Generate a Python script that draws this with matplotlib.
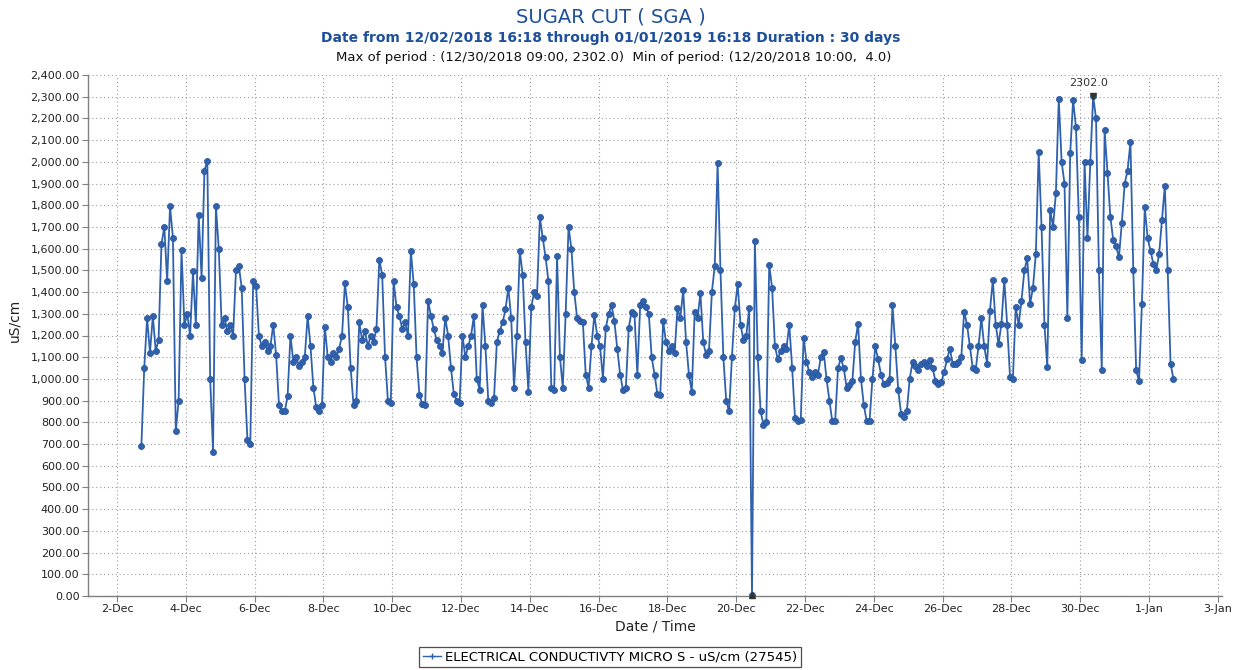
import matplotlib
matplotlib.use("Agg")
import matplotlib.pyplot as plt
import matplotlib.ticker as mticker
import numpy as np
import pandas as pd
from matplotlib.lines import Line2D

# ---------------- text ----------------
title = "SUGAR CUT ( SGA )"
subtitle = "Date from 12/02/2018 16:18 through 01/01/2019 16:18 Duration : 30 days"
stats_line = "Max of period : (12/30/2018 09:00, 2302.0)  Min of period: (12/20/2018 10:00,  4.0)"
series_label = "ELECTRICAL CONDUCTIVTY MICRO S - uS/cm (27545)"
y_label = "uS/cm"
x_label = "Date / Time"
max_label = "2302.0"

# ---------------- data (2-hourly readings) ----------------
first_reading = "2018-12-02 17:00"
reading_step = "2h"
ec_values = [
    # 2-Dec 17..23
    690, 1050, 1280, 1120,
    # 3-Dec 01..23
    1290, 1130, 1180, 1620, 1700, 1450, 1795, 1650, 760, 900, 1595, 1250,
    # 4-Dec
    1300, 1200, 1495, 1250, 1757, 1465, 1960, 2005, 1000, 665, 1795, 1600,
    # 5-Dec
    1250, 1280, 1220, 1250, 1200, 1500, 1520, 1420, 1000, 720, 700, 1450,
    # 6-Dec
    1430, 1200, 1150, 1170, 1130, 1150, 1250, 1110, 880, 850, 850, 920,
    # 7-Dec
    1200, 1080, 1100, 1060, 1080, 1100, 1290, 1150, 960, 870, 850, 880,
    # 8-Dec
    1240, 1100, 1080, 1120, 1100, 1140, 1200, 1440, 1330, 1050, 880, 900,
    # 9-Dec
    1260, 1180, 1220, 1150, 1200, 1170, 1230, 1550, 1480, 1100, 900, 890,
    # 10-Dec
    1450, 1330, 1290, 1230, 1260, 1200, 1590, 1435, 1100, 925, 885, 880,
    # 11-Dec
    1360, 1290, 1230, 1180, 1150, 1120, 1280, 1200, 1050, 930, 900, 890,
    # 12-Dec
    1200, 1100, 1150, 1200, 1290, 1000, 950, 1340, 1150, 900, 890, 910,
    # 13-Dec
    1170, 1220, 1260, 1320, 1420, 1280, 960, 1200, 1590, 1480, 1170, 940,
    # 14-Dec
    1330, 1400, 1380, 1745, 1650, 1560, 1450, 960, 950, 1565, 1100, 960,
    # 15-Dec
    1300, 1700, 1600, 1400, 1280, 1265, 1260, 1020, 960, 1150, 1295, 1200,
    # 16-Dec
    1150, 1000, 1235, 1300, 1340, 1265, 1140, 1020, 950, 960, 1235, 1310,
    # 17-Dec
    1300, 1020, 1340, 1357, 1330, 1300, 1100, 1020, 930, 925, 1265, 1170,
    # 18-Dec
    1130, 1150, 1120, 1325, 1280, 1410, 1170, 1020, 940, 1310, 1280, 1395,
    # 19-Dec
    1170, 1110, 1130, 1400, 1520, 1995, 1500, 1100, 900, 850, 1100, 1325,
    # 20-Dec
    1435, 1250, 1180, 1200, 1325, 4, 1635, 1100, 850, 790, 800, 1525,
    # 21-Dec
    1420, 1150, 1090, 1130, 1150, 1140, 1250, 1050, 820, 805, 810, 1190,
    # 22-Dec
    1080, 1030, 1010, 1030, 1020, 1100, 1125, 1000, 900, 805, 805, 1050,
    # 23-Dec
    1095, 1050, 960, 970, 990, 1170, 1255, 1000, 880, 805, 805, 1000,
    # 24-Dec
    1150, 1090, 1020, 975, 980, 1000, 1340, 1150, 950, 840, 825, 850,
    # 25-Dec
    1000, 1080, 1060, 1040, 1070, 1080, 1060, 1085, 1050, 990, 975, 985,
    # 26-Dec
    1030, 1090, 1140, 1070, 1070, 1080, 1100, 1310, 1250, 1150, 1050, 1040,
    # 27-Dec
    1150, 1280, 1150, 1070, 1315, 1455, 1250, 1160, 1255, 1455, 1250, 1010,
    # 28-Dec
    1000, 1330, 1250, 1360, 1500, 1555, 1345, 1420, 1575, 2045, 1700, 1250,
    # 29-Dec
    1055, 1780, 1700, 1855, 2290, 2000, 1900, 1280, 2040, 2285, 2160, 1745,
    # 30-Dec
    1085, 2000, 1650, 2000, 2302, 2200, 1500, 1040, 2145, 1950, 1745, 1640,
    # 31-Dec
    1610, 1560, 1720, 1900, 1960, 2090, 1500, 1040, 990, 1345, 1790, 1650,
    # 1-Jan 01..17
    1590, 1530, 1500, 1575, 1730, 1890, 1500, 1070, 1000,
]
x_tick_dates = pd.date_range("2018-12-02", "2019-01-03", freq="2D")
y_ticks = np.arange(0, 2401, 100)

# ---------------- styling ----------------
LINE_COLOR = "#2f61ad"
MARKER_EDGE = "#27529a"
TITLE_COLOR = "#1d4f9a"
GRID_COLOR = "#9a9a9a"
AXIS_COLOR = "#808080"

plt.rcParams["font.family"] = ["DejaVu Sans"]

fig = plt.figure(figsize=(12.39, 6.70), dpi=100)
fig.patch.set_facecolor("white")
ax = fig.add_axes([88 / 1239, 1 - 596 / 670, (1222 - 88) / 1239, (596 - 75) / 670])
ax.set_facecolor("white")

times = pd.date_range(first_reading, periods=len(ec_values), freq=reading_step)
values = np.array(ec_values, dtype=float)

ax.plot(times, values, color=LINE_COLOR, lw=1.3, marker="o", markersize=4.4,
        markerfacecolor=LINE_COLOR, markeredgecolor=MARKER_EDGE, markeredgewidth=0.5,
        zorder=3)

# max / min markers
imax = int(np.argmax(values))
imin = int(np.argmin(values))
ax.plot([times[imax]], [values[imax]], marker="v", color="#333333", markersize=5, zorder=4)
ax.annotate(max_label, (times[imax], values[imax]), xytext=(-3, 6), textcoords="offset points",
            ha="center", va="bottom", fontsize=8, color="#333333", zorder=5)
ax.plot([times[imin]], [values[imin]], marker="^", color="#333333", markersize=5, zorder=4,
        clip_on=False)

# axes limits
origin = pd.Timestamp("2018-12-02")
ax.set_xlim(origin + pd.Timedelta(days=-0.843), origin + pd.Timedelta(days=32.12))
ax.set_ylim(0, 2400)

ax.set_yticks(y_ticks)
ax.yaxis.set_major_formatter(mticker.FuncFormatter(lambda v, p: f"{v:,.2f}"))
ax.set_xticks(x_tick_dates)
ax.set_xticklabels([f"{d.day}-{d.strftime('%b')}" for d in x_tick_dates])

ax.tick_params(axis="both", direction="out", length=4, width=0.8, color=AXIS_COLOR,
               labelsize=8, labelcolor="#222222", pad=2)

ax.grid(True, which="major", color=GRID_COLOR, linestyle=(0, (1, 2.5)), linewidth=0.8)
ax.set_axisbelow(True)

for side in ("top", "right"):
    ax.spines[side].set_visible(False)
for side in ("left", "bottom"):
    ax.spines[side].set_color(AXIS_COLOR)
    ax.spines[side].set_linewidth(1.0)

ax.set_xlabel(x_label, fontsize=10, color="#222222", labelpad=4)
fig.text(14 / 1239, 1 - 320 / 670, y_label, rotation=90, ha="center", va="center",
         fontsize=10, color="#222222")

# titles
fig.text(611 / 1239, 1 - 17 / 670, title, ha="center", va="center", fontsize=14,
         color=TITLE_COLOR)
fig.text(611 / 1239, 1 - 38 / 670, subtitle, ha="center", va="center", fontsize=10,
         fontweight="bold", color=TITLE_COLOR)
fig.text(614 / 1239, 1 - 57 / 670, stats_line, ha="center", va="center", fontsize=9.5,
         color="#111111")

# legend
handle = Line2D([], [], color=LINE_COLOR, lw=1.0, marker="+", markersize=5,
                markeredgecolor=LINE_COLOR)
leg = fig.legend([handle], [series_label], loc="center", bbox_to_anchor=(610 / 1239, 1 - 657 / 670),
                 fontsize=9.5, frameon=True, fancybox=False, handlelength=1.4,
                 handletextpad=0.3, borderpad=0.3, borderaxespad=0)
leg.get_frame().set_edgecolor("#222222")
leg.get_frame().set_linewidth(0.9)

fig.savefig("out.png", dpi=100, facecolor="white")
